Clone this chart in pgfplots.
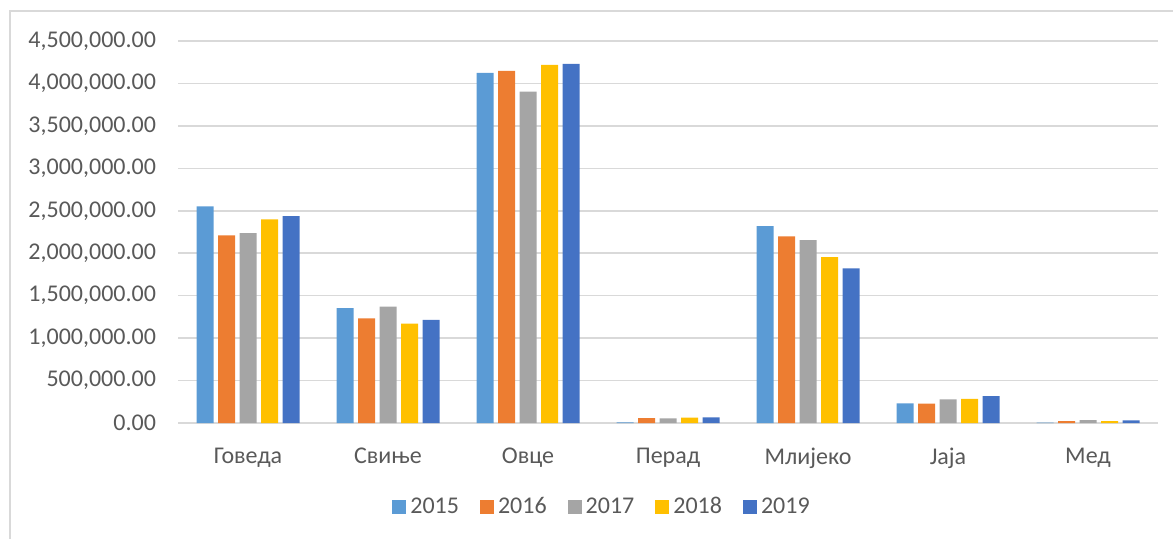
\documentclass[border=0pt]{standalone}
\usepackage{pgfplots}
\pgfplotsset{compat=1.18}
\usepackage{fontspec}
\setmainfont{Carlito}
\definecolor{c15}{HTML}{5B9BD5}
\definecolor{c16}{HTML}{ED7D31}
\definecolor{c17}{HTML}{A5A5A5}
\definecolor{c18}{HTML}{FFC000}
\definecolor{c19}{HTML}{4472C4}
\definecolor{gridc}{HTML}{D9D9D9}
\definecolor{txt}{HTML}{595959}
\begin{document}
\begin{tikzpicture}
\useasboundingbox (0,0) rectangle (586.5pt,269pt);
\draw[gridc, line width=0.75pt] (5pt,-2pt) -- (5pt,263.5pt) -- (590pt,263.5pt);
\begin{axis}[
  at={(89pt,57.5pt)}, anchor=south west,
  scale only axis, width=490pt, height=191pt,
  ybar=2.25pt, bar width=8.5pt,
  xmin=-0.5, xmax=6.5, ymin=0, ymax=4500000,
  xtick={0,1,2,3,4,5,6},
  xticklabels={Говеда,Свиње,Овце,Перад,Млијеко,Јаја,Мед},
  ytick={0,500000,1000000,1500000,2000000,2500000,3000000,3500000,4000000,4500000},
  scaled y ticks=false,
  yticklabel style={/pgf/number format/fixed, /pgf/number format/fixed zerofill, /pgf/number format/precision=2, /pgf/number format/1000 sep={,}, /pgf/number format/assume math mode=true, xshift=-7.5pt},
  major tick length=0pt,
  ymajorgrids, grid style={gridc, line width=0.75pt},
  axis x line*=bottom, axis y line*=left,
  x axis line style={gridc, line width=0.75pt, -},
  y axis line style={draw=none},
  tick label style={font=\fontsize{12pt}{14pt}\selectfont, text=txt},
  xticklabel style={yshift=-9pt},
  legend columns=5,
  legend style={at={(0.4337,-0.22)}, anchor=center, draw=none, fill=none,
    font=\fontsize{12pt}{14pt}\selectfont, text=txt,
    /tikz/every even column/.append style={column sep=8.5pt}},
  legend image code/.code={\fill[#1] (0pt,-3.5pt) rectangle (7pt,3.5pt);},
]
\addplot[fill=c15, draw=none] coordinates {(0,2553000) (1,1352000) (2,4125000) (3,8000) (4,2318000) (5,232000) (6,5000)};
\addplot[fill=c16, draw=none] coordinates {(0,2210000) (1,1234000) (2,4149000) (3,59000) (4,2200000) (5,227000) (6,22000)};
\addplot[fill=c17, draw=none] coordinates {(0,2237000) (1,1371000) (2,3905000) (3,55000) (4,2155000) (5,279000) (6,35000)};
\addplot[fill=c18, draw=none] coordinates {(0,2398000) (1,1171000) (2,4220000) (3,63000) (4,1955000) (5,283000) (6,22000)};
\addplot[fill=c19, draw=none] coordinates {(0,2437000) (1,1214000) (2,4232000) (3,66000) (4,1822000) (5,318000) (6,30000)};
\legend{2015,2016,2017,2018,2019}
\end{axis}
\end{tikzpicture}
\end{document}
